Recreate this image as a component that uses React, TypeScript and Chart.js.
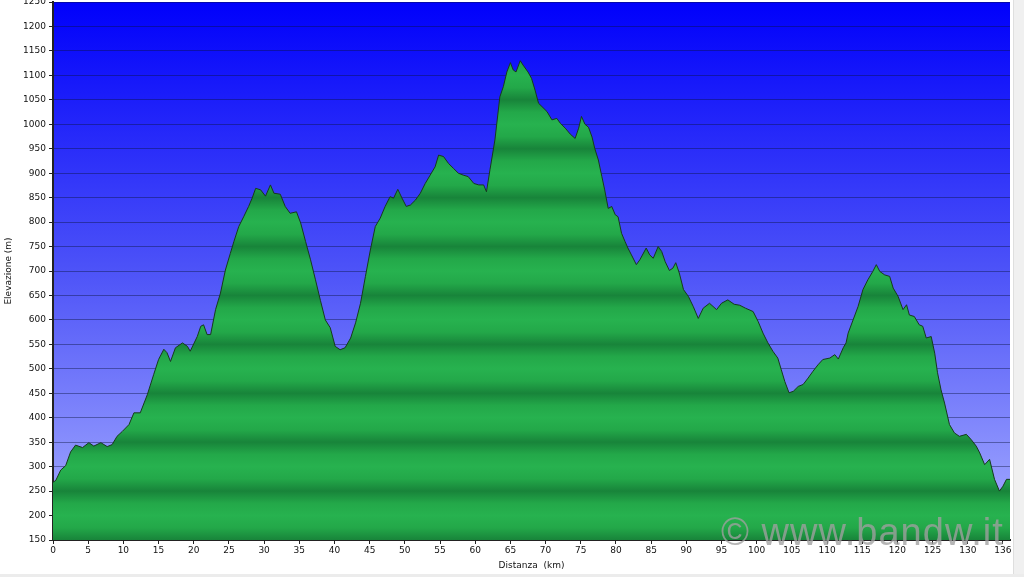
import React, { useEffect, useRef } from 'react';
import { Chart, registerables } from 'chart.js';

Chart.register(...registerables);

// Distance along the route (km)
const distances = [
  0.0, 0.4, 1.1, 1.8, 2.5, 3.2, 4.2, 5.1, 5.8, 6.8, 7.7, 8.4, 9.1, 9.85, 10.8, 11.5, 12.4, 13.4, 14.3, 15.0,
  15.75, 16.2, 16.7, 17.4, 18.4, 19.1, 19.5, 20.5, 21.0, 21.4, 21.9, 22.4, 23.1, 23.8, 24.5, 25.2, 25.7, 26.4, 27.1, 27.8,
  28.3, 28.8, 29.5, 30.2, 30.9, 31.4, 32.3, 33.0, 33.7, 34.6, 35.2, 35.9, 36.6, 37.3, 38.0, 38.7, 39.4, 40.1, 40.8, 41.5,
  42.3, 43.0, 43.7, 44.4, 45.1, 45.8, 46.5, 47.2, 47.9, 48.4, 49.0, 49.6, 50.2, 50.8, 51.5, 52.2, 52.9, 53.6, 54.3, 54.8,
  55.5, 56.2, 56.9, 57.6, 58.3, 59.0, 59.8, 60.5, 61.2, 61.6, 62.1, 62.8, 63.5, 64.0, 64.5, 65.0, 65.4, 65.8, 66.4, 66.8,
  67.5, 68.0, 68.5, 69.0, 69.5, 70.2, 70.9, 71.6, 72.1, 72.8, 73.5, 74.2, 74.7, 75.1, 75.6, 76.1, 76.6, 77.0, 77.5, 78.0,
  78.4, 78.9, 79.4, 79.9, 80.3, 80.8, 81.3, 81.7, 82.2, 82.9, 83.4, 84.3, 84.8, 85.3, 86.0, 86.5, 87.0, 87.6, 88.1, 88.5,
  89.0, 89.6, 90.3, 91.0, 91.7, 92.4, 93.3, 94.3, 95.0, 95.9, 96.8, 97.6, 98.4, 99.2, 99.5, 100.2, 100.9, 101.6, 102.3, 103.0,
  103.5, 104.0, 104.6, 105.2, 105.9, 106.6, 107.3, 108.0, 108.7, 109.4, 110.4, 111.1, 111.6, 112.3, 112.7, 113.0, 113.7, 114.4, 115.1, 115.8,
  116.5, 117.0, 117.5, 118.2, 118.9, 119.4, 120.1, 120.8, 121.3, 121.7, 122.4, 123.1, 123.6, 124.1, 124.8, 125.3, 125.7, 126.2, 126.7, 127.4,
  128.1, 128.8, 129.8, 130.5, 131.2, 131.7, 132.4, 133.1, 133.8, 134.5, 135.0, 135.5, 136.0,
];

// Elevation (m)
const elevations = [
  268, 272, 293, 302, 330, 344, 339, 349, 342, 349, 341, 345, 362, 372, 386, 410, 410, 447, 488, 519,
  540, 533, 515, 543, 553, 546, 536, 566, 587, 590, 570, 570, 621, 655, 702, 736, 760, 791, 811, 832,
  849, 869, 866, 853, 876, 859, 857, 832, 818, 821, 798, 760, 723, 682, 640, 600, 584, 546, 539, 543,
  563, 594, 634, 689, 743, 791, 808, 832, 852, 849, 867, 849, 832, 835, 845, 859, 879, 896, 913, 937,
  934, 920, 910, 900, 896, 893, 879, 876, 876, 862, 907, 968, 1056, 1077, 1107, 1126, 1111, 1107, 1130, 1121,
  1107, 1094, 1070, 1043, 1036, 1026, 1009, 1012, 1002, 992, 980, 971, 992, 1016, 1000, 994, 974, 950, 927, 893,
  866, 828, 832, 815, 811, 777, 760, 747, 733, 713, 723, 747, 733, 726, 750, 740, 719, 701, 706, 717,
  696, 662, 648, 627, 603, 624, 634, 621, 634, 641, 632, 630, 624, 619, 617, 597, 573, 553, 536, 522,
  498, 474, 451, 454, 464, 468, 481, 495, 508, 519, 522, 529, 520, 543, 553, 573, 600, 627, 662, 682,
  699, 713, 699, 692, 689, 665, 648, 621, 631, 610, 607, 590, 587, 563, 566, 532, 492, 457, 430, 386,
  369, 362, 366, 355, 342, 328, 304, 315, 274, 250, 260, 274, 274,
];

const xTickValues = [0, 5, 10, 15, 20, 25, 30, 35, 40, 45, 50, 55, 60, 65, 70, 75, 80, 85, 90, 95, 100, 105, 110, 115, 120, 125, 130, 135];
const xTickLabels = ['0', '5', '10', '15', '20', '25', '30', '35', '40', '45', '50', '55', '60', '65', '70', '75', '80', '85', '90', '95', '100', '105', '110', '115', '120', '125', '130', '136'];
const yTickValues = [150, 200, 250, 300, 350, 400, 450, 500, 550, 600, 650, 700, 750, 800, 850, 900, 950, 1000, 1050, 1100, 1150, 1200, 1250];

const X_MIN = 0;
const X_MAX = 136;
const Y_MIN = 150;
const Y_MAX = 1250;

const tickFont = { family: 'DejaVu Sans', size: 9 };
const textColor = '#111';

export default function App() {
  const ref = useRef<HTMLCanvasElement>(null);

  useEffect(() => {
    const canvas = ref.current;
    if (!canvas) return;

    const bgPlugin = {
      id: 'plotBg',
      beforeDraw(chart: any) {
        const { ctx, chartArea: a } = chart;
        ctx.save();
        ctx.fillStyle = '#ffffff';
        ctx.fillRect(0, 0, chart.width, chart.height);
        const g = ctx.createLinearGradient(0, a.top, 0, a.bottom);
        g.addColorStop(0, '#0000fb');
        g.addColorStop(0.5, '#4d53f8');
        g.addColorStop(1, '#a8afff');
        ctx.fillStyle = g;
        ctx.fillRect(a.left, a.top, a.right - a.left, a.bottom - a.top);
        ctx.restore();
      },
    };

    const greenFill = (c: any) => {
      const chart = c.chart;
      const { ctx, chartArea } = chart;
      if (!chartArea) return '#22a84a';
      const ys = chart.scales.y;
      const top = ys.getPixelForValue(Y_MAX);
      const bottom = ys.getPixelForValue(Y_MIN);
      const g = ctx.createLinearGradient(0, top, 0, bottom);
      const span = Y_MAX - Y_MIN;
      for (let v = Y_MAX; v >= Y_MIN; v -= 25) {
        const m = ((v % 100) + 100) % 100;
        let col = '#23a849';
        if (m === 50) col = '#18843a';
        else if (m === 0) col = '#27b24f';
        g.addColorStop((Y_MAX - v) / span, col);
      }
      return g;
    };

    const chart = new Chart(canvas, {
      type: 'line',
      data: {
        datasets: [
          {
            data: distances.map((d, i) => ({ x: d, y: elevations[i] })),
            borderColor: '#173a1d',
            borderWidth: 1,
            pointRadius: 0,
            tension: 0,
            fill: 'start',
            backgroundColor: greenFill,
          },
        ],
      },
      options: {
        animation: false,
        responsive: true,
        maintainAspectRatio: false,
        layout: { padding: { top: 2, right: 14, left: 0, bottom: 0 } },
        plugins: { legend: { display: false }, tooltip: { enabled: false } },
        scales: {
          x: {
            type: 'linear',
            min: X_MIN,
            max: X_MAX,
            z: 1,
            afterBuildTicks: (s: any) => {
              s.ticks = xTickValues.map((v) => ({ value: v }));
            },
            afterFit: (s: any) => {
              s.height = 37;
              s.paddingLeft = 0;
              s.paddingRight = 0;
            },
            ticks: {
              callback: (_v: any, i: number) => xTickLabels[i],
              font: tickFont,
              color: textColor,
              padding: 1,
              maxRotation: 0,
              autoSkip: false,
            },
            grid: { drawOnChartArea: false, drawTicks: true, tickLength: 4, color: '#222' },
            border: { display: true, color: '#222', width: 2 },
            title: {
              display: true,
              text: 'Distanza  (km)',
              font: tickFont,
              color: textColor,
              padding: { top: 0, bottom: 6 },
            },
          },
          y: {
            type: 'linear',
            min: Y_MIN,
            max: Y_MAX,
            z: 1,
            afterBuildTicks: (s: any) => {
              s.ticks = yTickValues.map((v) => ({ value: v }));
            },
            afterFit: (s: any) => {
              s.width = 53;
              s.paddingTop = 0;
              s.paddingBottom = 0;
            },
            ticks: {
              callback: (v: any) => String(v),
              font: tickFont,
              color: textColor,
              padding: 3,
              autoSkip: false,
            },
            grid: {
              color: 'rgba(10,20,60,0.42)',
              lineWidth: 1,
              drawTicks: true,
              tickLength: 4,
              tickColor: '#222',
            },
            border: { display: true, color: '#222', width: 2 },
            title: {
              display: true,
              text: 'Elevazione (m)',
              font: tickFont,
              color: textColor,
              padding: { top: 3, bottom: 0 },
            },
          },
        },
      },
      plugins: [bgPlugin],
    } as any);

    return () => chart.destroy();
  }, []);

  return (
    <div style={{ position: 'absolute', left: 0, top: 0, width: 1024, height: 577, background: '#fff', overflow: 'hidden' }}>
      <canvas ref={ref} />
      <div style={{ position: 'absolute', left: 1013, top: 0, width: 11, height: 577, background: '#f0f0f0', borderLeft: '1px solid #dedede' }} />
      <div style={{ position: 'absolute', left: 0, top: 574, width: 1024, height: 3, background: '#ececec' }} />
      <div
        style={{
          position: 'absolute',
          left: 721,
          top: 510,
          fontFamily: '"Liberation Sans", Arial, sans-serif',
          fontSize: 38,
          lineHeight: '44px',
          letterSpacing: 1,
          color: 'rgba(160,160,160,0.78)',
          whiteSpace: 'nowrap',
          pointerEvents: 'none',
        }}
      >
        © www.bandw.it
      </div>
    </div>
  );
}
